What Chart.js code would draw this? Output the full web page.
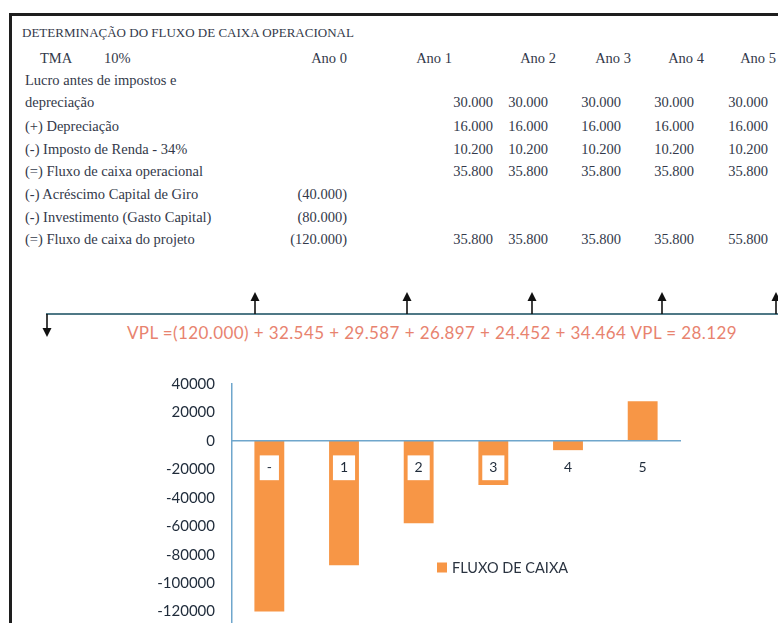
<!DOCTYPE html>
<html><head><meta charset="utf-8">
<script src="https://cdn.jsdelivr.net/npm/chart.js@4/dist/chart.umd.min.js"></script>
<style>
html,body{margin:0;padding:0;width:778px;height:623px;overflow:hidden;background:#fff;}
#frame{position:absolute;left:9px;top:13px;width:780px;height:640px;border-left:3px solid #1e1e1e;border-top:3px solid #1e1e1e;box-sizing:border-box;}
.t{position:absolute;font-family:"Liberation Serif",serif;font-size:14.5px;color:#33394a;white-space:nowrap;line-height:16px;transform:translateY(-50%);}
.t.title{font-size:13px;}
#vpl{position:absolute;left:0;width:864px;text-align:center;top:332px;transform:translateY(-50%);font-family:Lato,"Liberation Sans",sans-serif;font-size:17px;letter-spacing:0.4px;color:#e8836f;white-space:nowrap;}
#chartBox{position:absolute;left:150px;top:358px;width:560px;height:308px;}
#legend{position:absolute;left:437px;top:567px;transform:translateY(-50%);font-family:Lato,"Liberation Sans",sans-serif;font-size:14.5px;color:#2a3340;white-space:nowrap;display:flex;align-items:center;}
#legend .sw{display:inline-block;width:10px;height:10px;margin-right:5px;}
svg{position:absolute;left:0;top:0;}
</style></head>
<body>
<div id="frame"></div>
<div id="table"></div>
<svg id="diagram" width="778" height="360"></svg>
<div id="vpl"></div>
<div id="chartBox"><canvas id="c" width="560" height="308"></canvas></div>
<div id="legend"></div>
<script>
// ---------- data ----------
const title = "DETERMINAÇÃO DO FLUXO DE CAIXA OPERACIONAL";
const tmaLabel = "TMA";
const tmaValue = "10%";
const years = ["Ano 0", "Ano 1", "Ano 2", "Ano 3", "Ano 4", "Ano 5"];
const rowLabels = [
  "Lucro antes de impostos e",
  "depreciação",
  "(+) Depreciação",
  "(-) Imposto de Renda - 34%",
  "(=) Fluxo de caixa operacional",
  "(-) Acréscimo Capital  de Giro",
  "(-) Investimento  (Gasto Capital)",
  "(=) Fluxo de caixa do projeto"
];
const lucro            = [null, 30000, 30000, 30000, 30000, 30000];
const depreciacao      = [null, 16000, 16000, 16000, 16000, 16000];
const imposto          = [null, 10200, 10200, 10200, 10200, 10200];
const fluxoOperacional = [null, 35800, 35800, 35800, 35800, 35800];
const capitalGiro      = [-40000, null, null, null, null, null];
const investimento     = [-80000, null, null, null, null, null];
const fluxoProjeto     = [-120000, 35800, 35800, 35800, 35800, 55800];
const valorPresente    = [-120000, 32545, 29587, 26897, 24452, 34464];
const vplTotal = 28129;

const chartCategories = ["-", "1", "2", "3", "4", "5"];
const fluxoAcumulado  = [-120000, -87455, -57868, -30971, -6519, 27945];
const seriesLabel = "FLUXO DE CAIXA";
const yMin = -140000, yMax = 40000, yStep = 20000;

// ---------- layout (positions only) ----------
const rowY = [33, 58, 80, 102, 126, 149, 171, 194, 217, 239];
const labelX = 25;
const headerRight = [347, 452, 556, 631, 704, 776];
const numRight = [347, 493, 548, 621, 694, 768];
const arrowX = [47, 255, 407, 532, 662, 776];
const timelineY = 314;

// ---------- helpers ----------
function fmt(v) {
  const s = Math.abs(v).toString().replace(/\B(?=(\d{3})+(?!\d))/g, ".");
  return v < 0 ? "(" + s + ")" : s;
}
const tbl = document.getElementById("table");
function put(text, x, y, right, cls) {
  const d = document.createElement("div");
  d.className = "t" + (cls ? " " + cls : "");
  d.textContent = text;
  d.style.top = y + "px";
  if (right) d.style.right = (778 - x) + "px"; else d.style.left = x + "px";
  tbl.appendChild(d);
}
put(title, 22, rowY[0], false, "title");
put(tmaLabel, 40, rowY[1]);
put(tmaValue, 104, rowY[1]);
years.forEach((y, i) => put(y, headerRight[i], rowY[1], true));
rowLabels.forEach((l, i) => put(l, labelX, rowY[2 + i]));
const valueRows = [[lucro, 3], [depreciacao, 4], [imposto, 5], [fluxoOperacional, 6], [capitalGiro, 7], [investimento, 8], [fluxoProjeto, 9]];
valueRows.forEach(([arr, r]) => arr.forEach((v, i) => { if (v !== null) put(fmt(v), numRight[i], rowY[r], true); }));

// ---------- cash-flow diagram ----------
const svg = document.getElementById("diagram");
let s = `<line x1="46" y1="${timelineY}" x2="778" y2="${timelineY}" stroke="#4f7886" stroke-width="2"/>`;
fluxoProjeto.forEach((v, i) => {
  const x = arrowX[i];
  if (v < 0) {
    s += `<line x1="${x}" y1="${timelineY}" x2="${x}" y2="${timelineY + 16}" stroke="#111" stroke-width="1.6"/>`;
    s += `<polygon points="${x - 4.5},${timelineY + 14} ${x + 4.5},${timelineY + 14} ${x},${timelineY + 23}" fill="#111"/>`;
  } else {
    s += `<line x1="${x}" y1="${timelineY}" x2="${x}" y2="${timelineY - 15}" stroke="#111" stroke-width="1.6"/>`;
    s += `<polygon points="${x - 4.5},${timelineY - 13} ${x + 4.5},${timelineY - 13} ${x},${timelineY - 22}" fill="#111"/>`;
  }
});
svg.innerHTML = s;

document.getElementById("vpl").textContent =
  "VPL =" + valorPresente.map(fmt).join(" + ") + " VPL = " + fmt(vplTotal);

// ---------- chart ----------
const axisBlue = "#6fa6cc";
new Chart(document.getElementById("c"), {
  type: "bar",
  data: {
    labels: chartCategories,
    datasets: [{
      label: seriesLabel,
      data: fluxoAcumulado,
      backgroundColor: "#f79646",
      borderWidth: 0,
      barPercentage: 0.4,
      categoryPercentage: 1.0
    }]
  },
  options: {
    responsive: false,
    maintainAspectRatio: false,
    animation: false,
    devicePixelRatio: 1,
    layout: { autoPadding: false, padding: { top: 13, right: 30, bottom: 10.5, left: 0 } },
    plugins: { legend: { display: false }, tooltip: { enabled: false } },
    scales: {
      y: {
        min: yMin, max: yMax,
        grid: { display: false, drawTicks: false },
        border: { display: true, color: axisBlue, width: 1.5 },
        ticks: {
          stepSize: yStep, padding: 17,
          color: "#1f2b3a",
          font: { family: "Lato", size: 15 },
          callback: v => String(v)
        },
        afterFit: sc => { sc.width = 82; }
      },
      x: {
        position: { y: 0 },
        grid: { display: false, drawTicks: false },
        border: { display: true, color: axisBlue, width: 1.5, z: 1 },
        ticks: {
          z: 2,
          padding: 18.5,
          color: "#1f2b3a",
          font: { family: "Lato", size: 14 },
          showLabelBackdrop: true,
          backdropColor: "#ffffff",
          backdropPadding: { top: 4, bottom: 4, left: 7, right: 7 }
        }
      }
    }
  }
});

document.getElementById("legend").innerHTML =
  `<span class="sw" style="background:#f79646"></span><span>${seriesLabel}</span>`;
</script>
</body></html>
